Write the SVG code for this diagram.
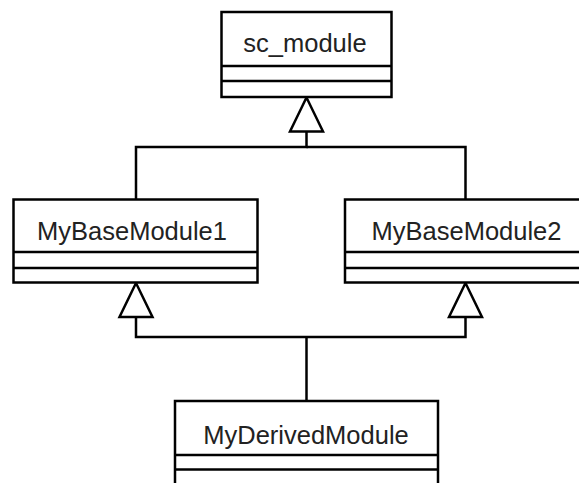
<svg xmlns="http://www.w3.org/2000/svg" width="579" height="483" viewBox="0 0 579 483">
<style>
.box{fill:#fff;stroke:#000;stroke-width:2.5}
.div{stroke:#000;stroke-width:2.5}
.lbl{font-family:"Liberation Sans",Arial,Helvetica,sans-serif;font-size:25.5px;fill:#222;text-anchor:middle}
.conn{fill:none;stroke:#000;stroke-width:2.5}
.tri{fill:#fff;stroke:#000;stroke-width:2.5;stroke-linejoin:miter}
</style>
<rect width="579" height="483" fill="#fff"/>
<g id="connectors">
<polyline class="conn" points="306.5,131.5 306.5,147 136,147 136,199.5"/>
<polyline class="conn" points="306.5,147 465.5,147 465.5,199.5"/>
<polygon class="tri" points="306.5,97.5 290,131.5 323,131.5"/>
<polyline class="conn" points="136,317 136,337 465.5,337 465.5,317"/>
<line class="conn" x1="306.5" y1="337" x2="306.5" y2="401"/>
<polygon class="tri" points="136,283 119.5,317 152.5,317"/>
<polygon class="tri" points="465.5,283 449,317 482,317"/>
</g>
<g id="sc_module">
<rect class="box" x="221.5" y="12" width="170" height="85"/>
<line class="div" x1="221.5" y1="66" x2="391.5" y2="66"/>
<line class="div" x1="221.5" y1="81" x2="391.5" y2="81"/>
<text class="lbl" x="305" y="51.5">sc_module</text>
</g>
<g id="MyBaseModule1">
<rect class="box" x="13.5" y="199.5" width="244" height="83"/>
<line class="div" x1="13.5" y1="252" x2="257.5" y2="252"/>
<line class="div" x1="13.5" y1="268" x2="257.5" y2="268"/>
<text class="lbl" x="132" y="240">MyBaseModule1</text>
</g>
<g id="MyBaseModule2">
<rect class="box" x="345" y="199.5" width="241" height="83"/>
<line class="div" x1="345" y1="252" x2="586" y2="252"/>
<line class="div" x1="345" y1="268" x2="586" y2="268"/>
<text class="lbl" x="466.5" y="239.5">MyBaseModule2</text>
</g>
<g id="MyDerivedModule">
<rect class="box" x="175" y="401" width="263" height="100"/>
<line class="div" x1="175" y1="455" x2="438" y2="455"/>
<line class="div" x1="175" y1="469.5" x2="438" y2="469.5"/>
<text class="lbl" x="306" y="443.5">MyDerivedModule</text>
</g>
</svg>
